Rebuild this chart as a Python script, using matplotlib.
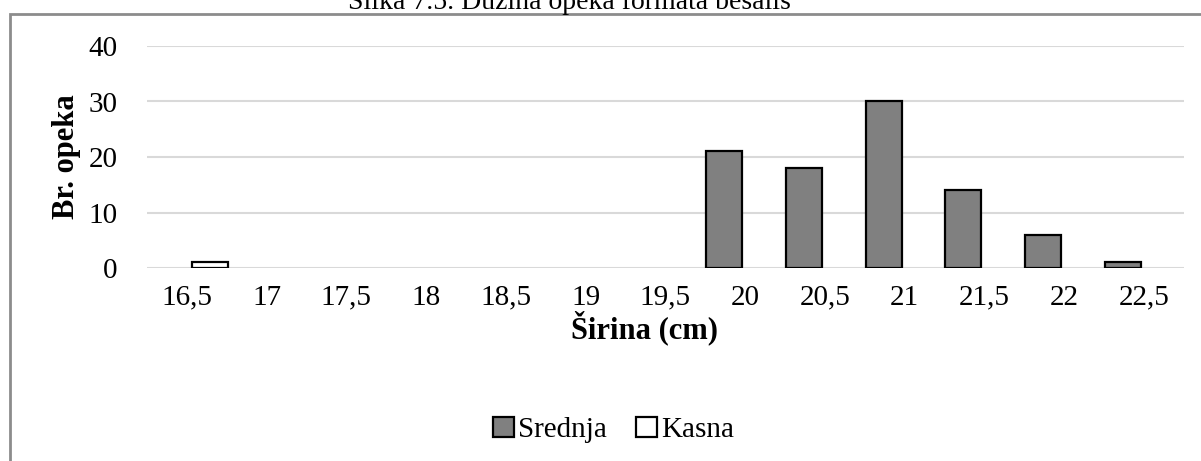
import numpy as np
import matplotlib
matplotlib.use("Agg")
import matplotlib.pyplot as plt
from matplotlib.patches import Rectangle

plt.rcParams['font.family'] = ['Liberation Serif', 'DejaVu Serif']

# data
categories = ["16,5", "17", "17,5", "18", "18,5", "19", "19,5",
              "20", "20,5", "21", "21,5", "22", "22,5"]
srednja = [0, 0, 0, 0, 0, 0, 0, 21, 18, 30, 14, 6, 1]
kasna = [1, 0, 0, 0, 0, 0, 0, 0, 0, 0, 0, 0, 0]
y_ticks = [0, 10, 20, 30, 40]

W, H = 1201, 461
fig = plt.figure(figsize=(W / 100, H / 100), dpi=100)
ax = fig.add_axes([147 / W, 1 - 268 / H, (1184 - 147) / W, (268 - 46) / H])

x = np.arange(len(categories))
bw = 0.45
s_vals = np.array(srednja)
k_vals = np.array(kasna)
# empty categories get no bar at all (Excel draws nothing for 0)
ms = s_vals > 0
mk = k_vals > 0
ax.bar(x[ms] - 0.265, s_vals[ms], width=bw, color='#808080', edgecolor='black',
       linewidth=1.6, label='Srednja', zorder=3)
ax.bar(x[mk] + 0.285, k_vals[mk], width=bw, color='white', edgecolor='black',
       linewidth=1.6, label='Kasna', zorder=3)

ax.set_xlim(-0.5, len(categories) - 0.5)
ax.set_ylim(0, 40)
ax.set_yticks(y_ticks)
ax.set_xticks(x)
ax.set_xticklabels(categories)
ax.tick_params(axis='both', length=0, labelsize=21)
ax.tick_params(axis='y', pad=21)
ax.tick_params(axis='x', pad=12)
ax.grid(axis='y', color='#d9d9d9', linewidth=1.5, zorder=0)
for s in ax.spines.values():
    s.set_visible(False)

ax.set_ylabel("Br. opeka", fontsize=22, fontweight='bold')
ax.yaxis.set_label_coords(-0.064, 0.5)
ax.set_xlabel("Širina (cm)", fontsize=22, fontweight='bold')
ax.xaxis.set_label_coords(0.48, -0.19)

# chart frame (partly cropped in the reference)
fig.patches.append(Rectangle((10 / W, -0.1), 1.2, 1 - 14 / H + 0.1,
                             transform=fig.transFigure, fill=False,
                             edgecolor='#8c8c8c', linewidth=2, clip_on=False))

fig.text(569 / W, 1 - 9 / H, "Slika 7.5. Dužina opeka formata besalis",
         fontsize=20, ha='center', va='baseline')

fig.legend(loc='center', bbox_to_anchor=(0.511, 1 - 430 / H), ncol=2,
           frameon=False, fontsize=21, handlelength=0.7, handleheight=0.7,
           handletextpad=0.15, columnspacing=1.0)

fig.savefig("out.png", dpi=100)
